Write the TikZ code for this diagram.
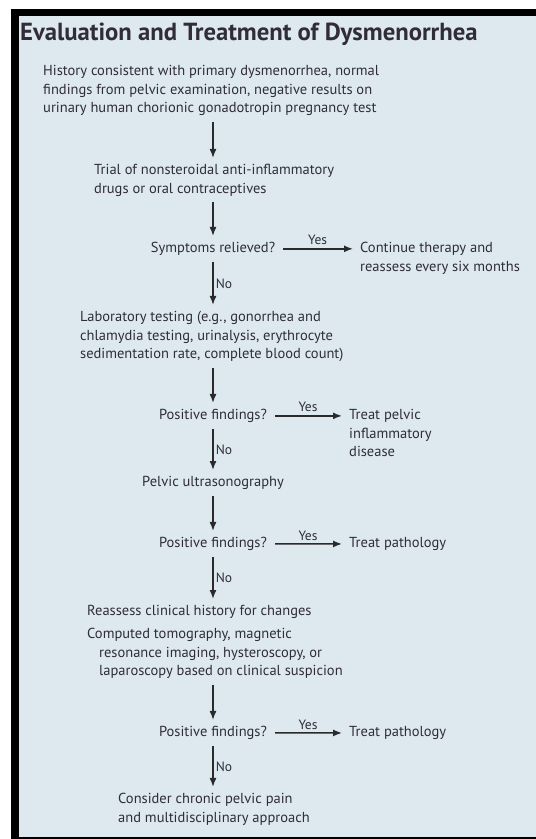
\documentclass[tikz,border=0pt]{standalone}
\usepackage{fontspec}
\setmainfont{PT Sans}
\usetikzlibrary{arrows.meta}
\definecolor{panelbg}{HTML}{DDE9EF}
\definecolor{inktext}{HTML}{302C38}
\definecolor{inkline}{HTML}{2A2A2C}
\tikzset{
  txt/.style={anchor=base west, align=left, inner sep=0pt, text=inktext,
    font=\fontsize{14.5}{18.5}\selectfont},
  ask/.style={anchor=base, inner sep=0pt, text=inktext,
    font=\fontsize{14.5}{18.5}\selectfont},
  lbl/.style={inner sep=2pt, text=inktext, font=\fontsize{13.5}{15}\selectfont},
  flow/.style={draw=inkline, line width=1.5pt, shorten <=6pt, shorten >=6pt,
    -{Latex[length=9pt,width=7pt]}},
  side/.style={flow, shorten <=8pt, shorten >=7pt},
}
\begin{document}
\begin{tikzpicture}[x=1pt,y=-1pt]
    % Frame/panel
    \useasboundingbox (0,0) rectangle (536,839);
    \fill[black] (11,9) rectangle (536,839);
    \fill[panelbg] (19,16) rectangle (536,837);
    \node[anchor=base west, inner sep=0pt, text=inktext,
      font=\fontsize{24.7}{28}\selectfont\bfseries] (title) at (20,40)
      {Evaluation and Treatment of Dysmenorrhea};
    \coordinate (spine) at (213,0);
    % Steps (placed at the baseline of their last line)
    \node[txt] (hist) at (43,112.5) {History consistent with primary dysmenorrhea, normal\\findings from pelvic examination, negative results on\\urinary human chorionic gonadotropin pregnancy test};
    \node[txt] (trial) at (94,193) {Trial of nonsteroidal anti-inflammatory\\drugs or oral contraceptives};
    \node[ask] (relief) at (213,252.5) {Symptoms relieved?};
    \node[txt] (cont) at (360,271) {Continue therapy and\\reassess every six months};
    \node[txt] (lab) at (80,358.5) {Laboratory testing (e.g., gonorrhea and\\chlamydia testing, urinalysis, erythrocyte\\sedimentation rate, complete blood count)};
    \node[ask] (pos1) at (213,419.5) {Positive findings?};
    \node[txt] (pid) at (349,456.5) {Treat pelvic\\inflammatory\\disease};
    \node[ask] (us) at (213,486.5) {Pelvic ultrasonography};
    \node[ask] (pos2) at (213,547.5) {Positive findings?};
    \node[txt] (path1) at (349,547.5) {Treat pathology};
    \node[txt] (reas) at (87,615.5) {Reassess clinical history for changes};
    \node[txt] (ct) at (87,675.5) {Computed tomography, magnetic\\\hspace*{12pt}resonance imaging, hysteroscopy, or\\\hspace*{12pt}laparoscopy based on clinical suspicion};
    \node[ask] (pos3) at (213,736.5) {Positive findings?};
    \node[txt] (path2) at (349,736.5) {Treat pathology};
    \node[txt] (cons) at (118,822) {Consider chronic pelvic pain\\and multidisciplinary approach};
    % Down arrows
    \draw[flow] (hist.south -| spine) -- (trial.north -| spine);
    \draw[flow] (trial.south -| spine) -- (relief.north);
    \draw[flow] (relief.south) -- node[lbl,right] (no1) {No} (lab.north -| spine);
    \draw[flow] (lab.south -| spine) -- (pos1.north);
    \draw[flow] (pos1.south) -- node[lbl,right] (no2) {No} (us.north);
    \draw[flow] (us.south) -- (pos2.north);
    \draw[flow] (pos2.south) -- node[lbl,right] (no3) {No} (reas.north -| spine);
    \draw[flow] (ct.south -| spine) -- (pos3.north);
    \draw[flow] (pos3.south) -- node[lbl,right] (no4) {No} (cons.north -| spine);
    % Yes arrows
    \draw[side] (relief.east) -- node[lbl,above=1pt] (yes1) {Yes} (relief.east -| cont.west);
    \draw[side] (pos1.east) -- node[lbl,above=1pt] (yes2) {Yes} (pos1.east -| pid.west);
    \draw[side] (pos2.east) -- node[lbl,above=1pt] (yes3) {Yes} (path1.west);
    \draw[side] (pos3.east) -- node[lbl,above=1pt] (yes4) {Yes} (path2.west);
\end{tikzpicture}
\end{document}
